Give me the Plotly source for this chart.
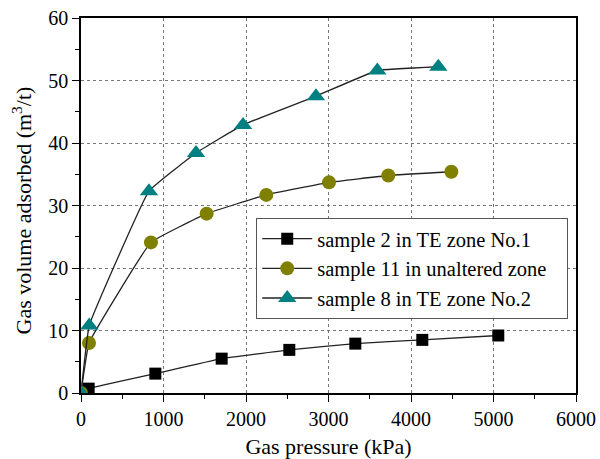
import plotly.graph_objects as go

# Data
s2_x = [0, 93, 901, 1705, 2525, 3325, 4137, 5058]
s2_y = [0, 0.7, 3.1, 5.5, 6.9, 7.9, 8.5, 9.2]

s11_x = [0, 97, 848, 1523, 2246, 3006, 3725, 4489]
s11_y = [0, 8.0, 24.1, 28.7, 31.7, 33.7, 34.8, 35.4]

s8_x = [0, 100, 824, 1394, 1964, 2848, 3592, 4331]
s8_y = [0, 10.8, 32.3, 38.4, 42.9, 47.5, 51.6, 52.2]

names = ["sample 2 in TE zone No.1", "sample 11 in unaltered zone", "sample 8 in TE zone No.2"]
x_title = "Gas pressure (kPa)"
y_title = "Gas volume adsorbed (m<sup>3</sup>/t)"
FONT = "Liberation Serif"
PAD = "\u00a0\u00a0\u00a0"

fig = go.Figure()
line_style = dict(color="#222222", width=1.3, shape="spline", smoothing=0.25)
fig.add_trace(go.Scatter(x=s2_x, y=s2_y, name=names[0] + PAD, mode="lines+markers",
                         line=line_style,
                         marker=dict(symbol="square", size=12, color="black")))
fig.add_trace(go.Scatter(x=s11_x, y=s11_y, name=names[1] + PAD, mode="lines+markers",
                         line=line_style,
                         marker=dict(symbol="circle", size=14, color="#808000")))
fig.add_trace(go.Scatter(x=s8_x, y=s8_y, name=names[2] + PAD, mode="lines+markers",
                         line=line_style,
                         marker=dict(symbol="triangle-up", size=16, color="#008080")))

fig.update_xaxes(range=[0, 6000], dtick=1000, tick0=0,
                 showline=True, linecolor="black", linewidth=1.5, mirror=True,
                 ticks="outside", ticklen=7, tickwidth=1.3, tickcolor="black",
                 minor=dict(ticks="outside", ticklen=4, dtick=500, tickcolor="black", showgrid=False),
                 showgrid=True, gridcolor="#777777", griddash="dot", gridwidth=1,
                 zeroline=False,
                 tickfont=dict(family=FONT, size=20, color="black"),
                 title=dict(text=x_title, standoff=10,
                            font=dict(family=FONT, size=22, color="black")))
fig.update_yaxes(range=[0, 60], dtick=10, tick0=0,
                 showline=True, linecolor="black", linewidth=1.5, mirror=True,
                 ticks="outside", ticklen=7, tickwidth=1.3, tickcolor="black",
                 minor=dict(ticks="outside", ticklen=4, dtick=5, tickcolor="black", showgrid=False),
                 showgrid=True, gridcolor="#777777", griddash="dot", gridwidth=1,
                 zeroline=False,
                 tickfont=dict(family=FONT, size=20, color="black"))

fig.add_annotation(text=y_title, xref="paper", yref="paper", x=-0.119, y=0.487,
                   xanchor="center", yanchor="middle", textangle=-90, showarrow=False,
                   font=dict(family=FONT, size=22, color="black"))

fig.update_layout(
    width=600, height=459,
    margin=dict(l=81, r=24, t=18, b=66, autoexpand=False),
    paper_bgcolor="white", plot_bgcolor="white",
    legend=dict(x=0.354, y=0.467, xanchor="left", yanchor="top",
                bgcolor="white", bordercolor="#555555", borderwidth=1,
                itemwidth=50,
                font=dict(family=FONT, size=20.5, color="black")),
    showlegend=True,
)

fig.write_html("out.html")
